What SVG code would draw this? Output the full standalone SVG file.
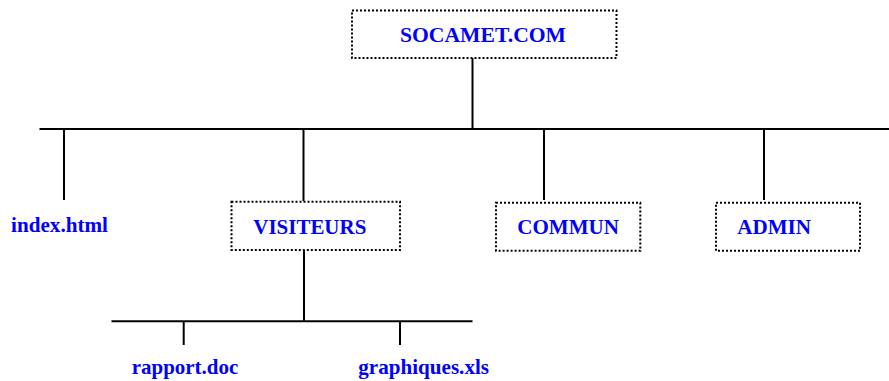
<svg xmlns="http://www.w3.org/2000/svg" width="889" height="381" viewBox="0 0 889 381">
<style>
.box{fill:#fff;stroke:#000;stroke-width:2;stroke-dasharray:2 2}
.lbl{font-family:"Liberation Serif","Times New Roman",serif;font-weight:bold;font-size:21px;fill:#0000ff}
.ln{stroke:#000;stroke-width:2;fill:none}
</style>
<rect width="889" height="381" fill="#fff"/>
<g id="connectors">
<line class="ln" x1="472.5" y1="58" x2="472.5" y2="129"/>
<line class="ln" x1="39.5" y1="129" x2="889" y2="129"/>
<line class="ln" x1="64" y1="129" x2="64" y2="200"/>
<line class="ln" x1="303.5" y1="129" x2="303.5" y2="201"/>
<line class="ln" x1="544" y1="129" x2="544" y2="200"/>
<line class="ln" x1="764" y1="129" x2="764" y2="200"/>
<line class="ln" x1="304" y1="250" x2="304" y2="321"/>
<line class="ln" x1="111.5" y1="321.3" x2="472.5" y2="321.3"/>
<line class="ln" x1="183.7" y1="321" x2="183.7" y2="345"/>
<line class="ln" x1="400" y1="321" x2="400" y2="345"/>
</g>
<g id="socamet">
<rect class="box" x="352" y="10.5" width="264.5" height="47.5"/>
<text class="lbl" x="400" y="41.7" textLength="166" lengthAdjust="spacingAndGlyphs">SOCAMET.COM</text>
</g>
<g id="index">
<text class="lbl" x="11" y="232" textLength="97" lengthAdjust="spacingAndGlyphs">index.html</text>
</g>
<g id="visiteurs">
<rect class="box" x="231.5" y="201.7" width="168.5" height="48.3"/>
<text class="lbl" x="253.3" y="234.3" textLength="113" lengthAdjust="spacingAndGlyphs">VISITEURS</text>
</g>
<g id="commun">
<rect class="box" x="496" y="202.7" width="144.3" height="48"/>
<text class="lbl" x="517.3" y="234" textLength="101.7" lengthAdjust="spacingAndGlyphs">COMMUN</text>
</g>
<g id="admin">
<rect class="box" x="716" y="202.7" width="144" height="48"/>
<text class="lbl" x="737.3" y="234" textLength="73.7" lengthAdjust="spacingAndGlyphs">ADMIN</text>
</g>
<g id="rapport">
<text class="lbl" x="131.7" y="374" textLength="106.6" lengthAdjust="spacingAndGlyphs">rapport.doc</text>
</g>
<g id="graphiques">
<text class="lbl" x="358.3" y="374" textLength="130.7" lengthAdjust="spacingAndGlyphs">graphiques.xls</text>
</g>
</svg>
